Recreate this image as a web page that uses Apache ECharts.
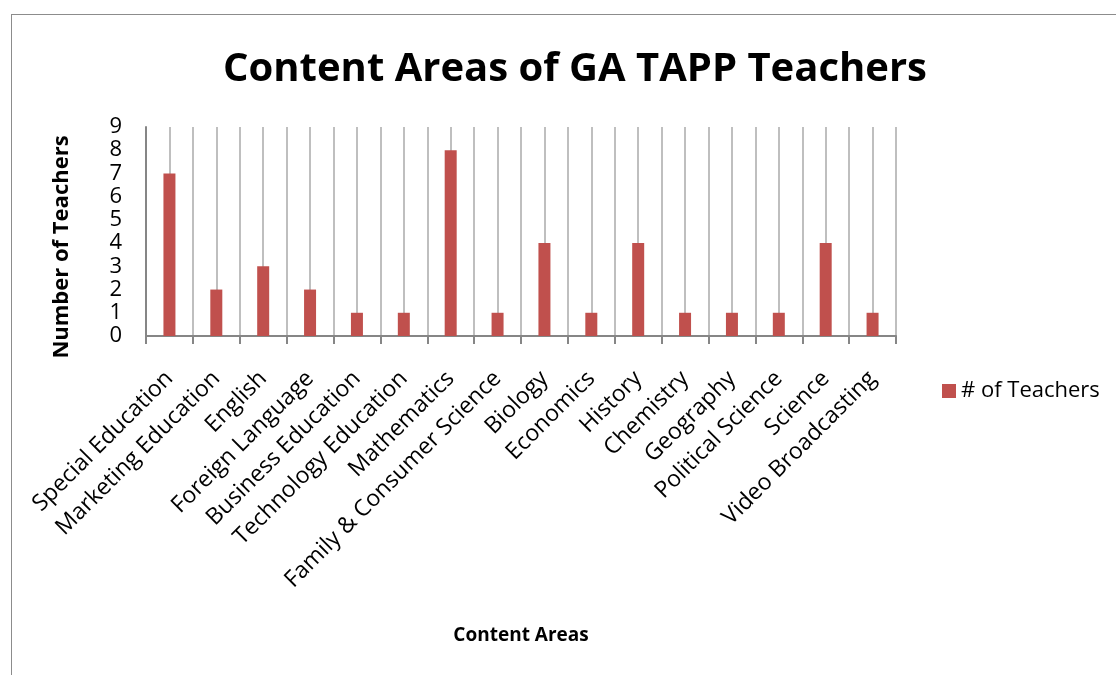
<!DOCTYPE html>
<html>
<head>
<meta charset="utf-8">
<script src="https://cdn.jsdelivr.net/npm/echarts@6/dist/echarts.min.js"></script>
<style>
  html, body { margin: 0; padding: 0; background: #fff; }
  #frame { position: absolute; left: 11px; top: 14px; width: 1120px; height: 680px; border: 1px solid #8c8c8c; }
  #chart { position: absolute; left: 0; top: 0; width: 1116px; height: 675px; }
</style>
</head>
<body>
<div id="frame"></div>
<div id="chart"></div>
<script>
var categories = ['Special Education', 'Marketing Education', 'English', 'Foreign Language',
  'Business Education', 'Technology Education', 'Mathematics', 'Family & Consumer Science',
  'Biology', 'Economics', 'History', 'Chemistry', 'Geography', 'Political Science',
  'Science', 'Video Broadcasting'];
var teachers = [7, 2, 3, 2, 1, 1, 8, 1, 4, 1, 4, 1, 1, 1, 4, 1];
var yTicks = [0, 1, 2, 3, 4, 5, 6, 7, 8, 9];

var font = '"Open Sans", "Liberation Sans", sans-serif';

var option = {
  animation: false,
  title: {
    text: 'Content Areas of GA TAPP Teachers',
    left: 570,
    top: 45,
    textAlign: 'center',
    textStyle: { fontFamily: font, fontSize: 40, fontWeight: 'bold', color: '#000' }
  },
  legend: {
    data: ['# of Teachers'],
    left: 937,
    top: 375,
    itemWidth: 14,
    itemHeight: 14,
    itemGap: 6,
    icon: 'rect',
    textStyle: { fontFamily: font, fontSize: 22, color: '#000' }
  },
  // y axis title sits a bit below the plot centre in the original
  graphic: [{
    type: 'text',
    x: 62,
    y: 247,
    rotation: Math.PI / 2,
    style: {
      text: 'Number of Teachers',
      fontFamily: font,
      fontSize: 22,
      fontWeight: 'bold',
      fill: '#000',
      align: 'center',
      verticalAlign: 'middle'
    }
  }],
  grid: { left: 146, right: 220, top: 127, bottom: 339 },
  xAxis: [
    {
      type: 'category',
      data: categories,
      name: 'Content Areas',
      nameLocation: 'middle',
      nameGap: 290,
      nameTextStyle: { fontFamily: font, fontSize: 19, fontWeight: 'bold', color: '#000' },
      axisLine: { lineStyle: { color: '#868686', width: 2 } },
      axisTick: { show: true, length: 8, lineStyle: { color: '#868686', width: 2 } },
      axisLabel: { rotate: 45, fontFamily: font, fontSize: 23, color: '#000', margin: 39, interval: 0 },
      splitLine: { show: false }
    },
    {
      type: 'value',
      position: 'bottom',
      min: 0,
      max: 16,
      interval: 0.5,
      axisLine: { show: false },
      axisTick: { show: false },
      axisLabel: { show: false },
      splitLine: { show: true, lineStyle: { color: '#bfbfbf', width: 2 } }
    }
  ],
  yAxis: {
    type: 'value',
    min: yTicks[0],
    max: yTicks[yTicks.length - 1],
    interval: 1,
    axisLine: { show: true, lineStyle: { color: '#868686', width: 2 } },
    axisTick: { show: false },
    axisLabel: { fontFamily: font, fontSize: 22, color: '#000', margin: 24 },
    splitLine: { show: false }
  },
  series: [
    {
      name: '# of Teachers',
      type: 'bar',
      xAxisIndex: 0,
      data: teachers,
      barWidth: 12,
      itemStyle: { color: '#c0504d' },
      z: 3
    }
  ]
};

var chart = echarts.init(document.getElementById('chart'));
chart.setOption(option);
</script>
</body>
</html>
